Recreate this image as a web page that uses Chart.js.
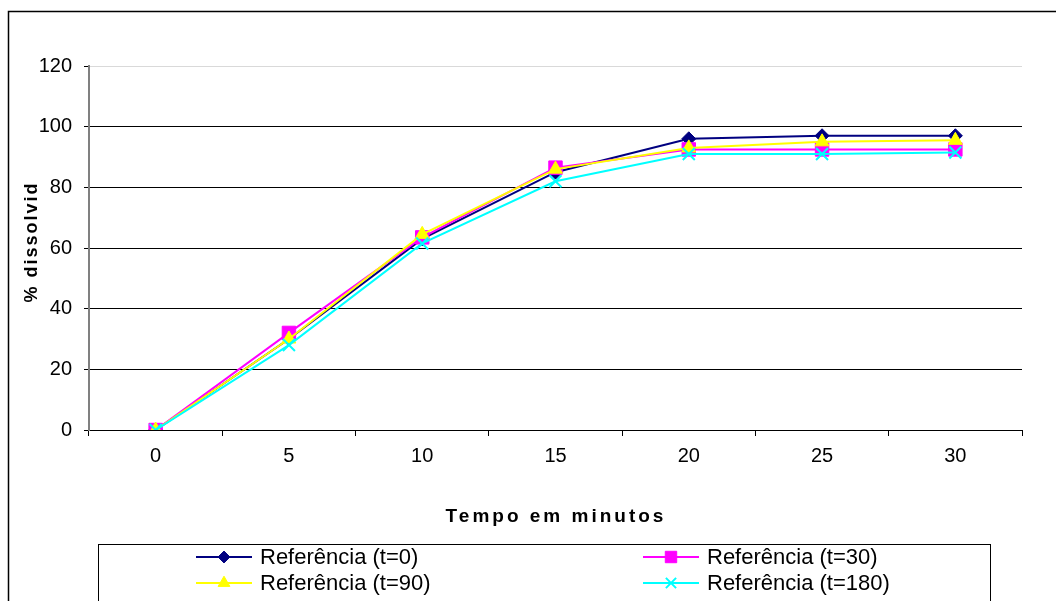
<!DOCTYPE html>
<html>
<head>
<meta charset="utf-8">
<script src="https://cdn.jsdelivr.net/npm/chart.js@4/dist/chart.umd.min.js"></script>
<style>
  html, body { margin: 0; padding: 0; background: #fff; }
  canvas { display: block; }
</style>
</head>
<body>
<canvas id="dissolutionChart" width="1056" height="601"></canvas>
<script>
// Dissolution profile: % dissolved over time for each reference sample
const minutes = ['0', '5', '10', '15', '20', '25', '30'];
const refT0 = [0, 30, 63, 85, 96, 97, 97];
const refT30 = [0, 32, 63.5, 86.5, 92.5, 92.5, 92.5];
const refT90 = [0, 30, 64.5, 86, 93, 95, 95.5];
const refT180 = [0, 28, 61.5, 82, 91, 91, 91.5];
const yTicks = [0, 20, 40, 60, 80, 100, 120];

const FONT = '"Liberation Sans", Arial, sans-serif';

function series(label, data, color, style, radius, order) {
  return {
    label: label,
    data: data,
    borderColor: color,
    backgroundColor: color,
    pointBackgroundColor: color,
    pointBorderColor: color,
    borderWidth: 2,
    pointStyle: style,
    pointRadius: radius,
    pointHoverRadius: radius,
    pointBorderWidth: style === 'crossRot' ? 2 : 1,
    tension: 0,
    fill: false,
    order: order
  };
}

const datasets = [
  series('Referência (t=0)', refT0, '#000080', 'rectRot', 7, 4),
  series('Referência (t=30)', refT30, '#ff00ff', 'rect', 9.5, 3),
  series('Referência (t=90)', refT90, '#ffff00', 'triangle', 8, 2),
  series('Referência (t=180)', refT180, '#00ffff', 'crossRot', 8.5, 1)
];

// Frame, axis titles and the boxed two-column legend
const decorations = {
  id: 'decorations',
  beforeDraw(chart) {
    const ctx = chart.ctx;
    ctx.save();
    ctx.fillStyle = '#fff';
    ctx.fillRect(0, 0, chart.width, chart.height);
    ctx.restore();
  },
  afterDraw(chart) {
    const ctx = chart.ctx;
    ctx.save();

    // outer frame
    ctx.strokeStyle = '#000';
    ctx.lineWidth = 1.5;
    ctx.strokeRect(8.5, 11.5, 1200, 800);

    // axis titles
    ctx.fillStyle = '#000';
    ctx.textAlign = 'center';
    ctx.textBaseline = 'middle';
    ctx.font = 'bold 19px ' + FONT;
    ctx.letterSpacing = '3px';
    ctx.fillText('Tempo em minutos', 556, 517);

    ctx.save();
    ctx.translate(32, 242);
    ctx.rotate(-Math.PI / 2);
    ctx.font = 'bold 18px ' + FONT;
    ctx.letterSpacing = '2px';
    ctx.fillText('% dissolvid', 0, 0);
    ctx.restore();
    ctx.letterSpacing = '0px';

    // legend box
    ctx.lineWidth = 1;
    ctx.strokeStyle = '#000';
    ctx.strokeRect(98.5, 544.5, 892, 100);

    const colX = [196, 643];
    const rowY = [557, 583];
    ctx.textAlign = 'left';
    ctx.font = '22px ' + FONT;
    chart.data.datasets.forEach((ds, i) => {
      const x = colX[i % 2];
      const y = rowY[Math.floor(i / 2)];
      ctx.strokeStyle = ds.borderColor;
      ctx.lineWidth = 2;
      ctx.beginPath();
      ctx.moveTo(x, y);
      ctx.lineTo(x + 56, y);
      ctx.stroke();
      ctx.fillStyle = ds.backgroundColor;
      ctx.lineWidth = ds.pointBorderWidth;
      Chart.helpers.drawPoint(ctx, {
        pointStyle: ds.pointStyle,
        rotation: 0,
        radius: ds.pointRadius * 0.85,
        borderWidth: ds.pointBorderWidth
      }, x + 28, y);
      ctx.fillStyle = '#000';
      ctx.fillText(ds.label, x + 64, y + 1);
    });

    ctx.restore();
  }
};

new Chart(document.getElementById('dissolutionChart'), {
  type: 'line',
  data: { labels: minutes, datasets: datasets },
  plugins: [decorations],
  options: {
    responsive: false,
    animation: false,
    events: [],
    layout: { padding: { top: 66, right: 34, left: 0, bottom: 0 } },
    plugins: {
      legend: { display: false },
      tooltip: { enabled: false }
    },
    scales: {
      x: {
        offset: true,
        afterFit: s => { s.height = 171; },
        border: { display: true, color: '#000', width: 1 },
        grid: {
          offset: true,
          drawOnChartArea: false,
          drawTicks: true,
          tickLength: 6,
          tickColor: '#000'
        },
        ticks: {
          color: '#000',
          padding: 8,
          maxRotation: 0,
          font: { family: FONT, size: 20 }
        }
      },
      y: {
        min: 0,
        max: 120,
        afterFit: s => { s.width = 89; },
        afterBuildTicks: s => { s.ticks = yTicks.map(v => ({ value: v })); },
        border: { display: true, color: '#808080', width: 2 },
        grid: {
          color: ctx => (ctx.tick && ctx.tick.value === 120 ? '#d9d9d9' : '#000'),
          tickColor: '#000',
          tickLength: 5,
          lineWidth: 1
        },
        ticks: {
          color: '#000',
          padding: 12,
          font: { family: FONT, size: 20 }
        }
      }
    }
  }
});
</script>
</body>
</html>
